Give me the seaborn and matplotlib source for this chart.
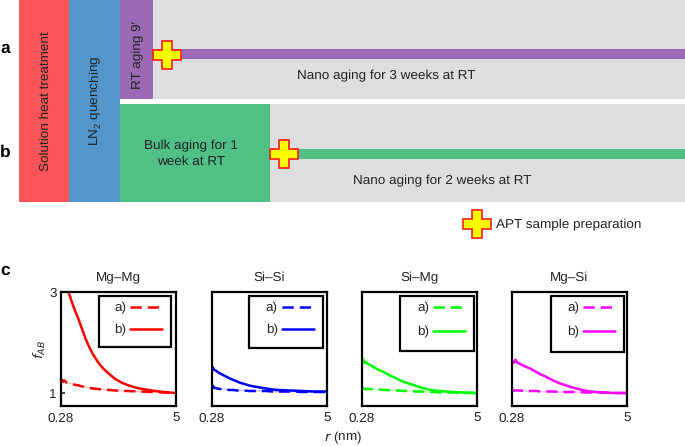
import numpy as np
import pandas as pd
import seaborn as sns
import matplotlib
matplotlib.use("Agg")
import matplotlib.pyplot as plt

# panel c data
r = [0.28, 0.32, 0.36, 0.42, 0.5, 0.6, 0.8, 1.0, 1.15, 1.3, 1.45, 1.6, 1.8, 2.0, 2.25, 2.5, 2.75, 3.0, 3.25, 3.5, 4.0, 4.5, 5.0]
titles = ["Mg\u2013Mg", "Si\u2013Si", "Si\u2013Mg", "Mg\u2013Si"]
colors = ["#ff0000", "#0000ff", "#00ff00", "#ff00ff"]
curves_a = [
    [1.20, 1.26, 1.22, 1.25, 1.21, 1.20, 1.17, 1.15, 1.13, 1.12, 1.10, 1.09, 1.08, 1.07, 1.06, 1.05, 1.045, 1.04, 1.035, 1.03, 1.02, 1.01, 1.00],
    [1.12, 1.14, 1.10, 1.10, 1.09, 1.08, 1.07, 1.06, 1.06, 1.05, 1.05, 1.05, 1.04, 1.04, 1.04, 1.04, 1.03, 1.03, 1.03, 1.03, 1.02, 1.02, 1.02],
    [1.09, 1.10, 1.08, 1.08, 1.08, 1.08, 1.07, 1.07, 1.06, 1.06, 1.05, 1.05, 1.05, 1.04, 1.04, 1.03, 1.03, 1.02, 1.02, 1.01, 1.01, 1.00, 1.00],
    [1.05, 1.06, 1.05, 1.05, 1.05, 1.05, 1.04, 1.04, 1.04, 1.04, 1.03, 1.03, 1.03, 1.03, 1.02, 1.02, 1.02, 1.02, 1.01, 1.01, 1.01, 1.00, 1.00],
]
curves_b = [
    [3.70, 3.58, 3.50, 3.32, 3.15, 2.98, 2.70, 2.46, 2.26, 2.06, 1.90, 1.76, 1.61, 1.49, 1.38, 1.28, 1.21, 1.16, 1.12, 1.09, 1.05, 1.02, 1.00],
    [1.49, 1.51, 1.46, 1.45, 1.42, 1.39, 1.34, 1.29, 1.26, 1.23, 1.20, 1.18, 1.15, 1.13, 1.11, 1.09, 1.07, 1.06, 1.055, 1.05, 1.04, 1.03, 1.03],
    [1.58, 1.68, 1.60, 1.62, 1.58, 1.56, 1.50, 1.45, 1.42, 1.38, 1.34, 1.31, 1.26, 1.22, 1.18, 1.14, 1.10, 1.07, 1.05, 1.04, 1.02, 1.01, 1.00],
    [1.58, 1.61, 1.60, 1.66, 1.60, 1.58, 1.53, 1.49, 1.45, 1.41, 1.37, 1.34, 1.29, 1.24, 1.19, 1.15, 1.11, 1.08, 1.05, 1.03, 1.01, 1.00, 1.00],
]
states = ["a)", "b)"]

# panel a/b schedule colours
stage_colors = ["#fa5053", "#4d94cb", "#9a6ab5", "#50c085"]

sns.set_theme(style="white")
plt.rcParams["font.family"] = ["Liberation Sans", "DejaVu Sans"]
plt.rcParams["mathtext.default"] = "regular"
plt.rcParams["text.hinting"] = "none"
txt = "#222222"

fig = plt.figure(figsize=(6.85, 4.46), dpi=100)
W, H = 685, 446
top = fig.add_axes([0, 0, 1, 1])
top.set_xlim(0, W)
top.set_ylim(H, 0)
top.axis("off")

# grey background rows
top.barh(49.5, 666, left=19, height=99, color="#dedede", lw=0)
top.barh(153, 666, left=19, height=98, color="#dedede", lw=0)
# strips
top.barh(54, 505, left=180, height=10, color=stage_colors[2], lw=0)
top.barh(153.5, 390, left=295, height=10, color=stage_colors[3], lw=0)
# stages
top.bar(44, 202, width=50, bottom=0, color=stage_colors[0], lw=0, alpha=0.97)
top.bar(94.5, 202, width=51, bottom=0, color=stage_colors[1], lw=0, alpha=0.97)
top.bar(136.5, 98.5, width=33, bottom=0, color=stage_colors[2], lw=0)
top.bar(195, 98, width=150, bottom=104, color=stage_colors[3], lw=0)

for cx, cy in [(167, 54.7), (284, 154), (477, 224)]:
    top.plot(cx, cy, marker="P", ms=19.5, mfc="#ffff00", mec="#ff1a1a", mew=1.2, ls="none", clip_on=False)

ts = 9.7
top.text(46, 101, "Solution heat treatment", rotation=90, ha="center", va="center", fontsize=ts, color=txt)
top.text(96, 101, "LN$_2$ quenching", rotation=90, ha="center", va="center", fontsize=ts, color=txt)
top.text(138, 55, "RT aging 9\u2032", rotation=90, ha="center", va="center", fontsize=ts, color=txt)
top.text(191, 154, "Bulk aging for 1\nweek at RT", ha="center", va="center", fontsize=ts, color=txt, linespacing=1.4)
top.text(386, 76, "Nano aging for 3 weeks at RT", ha="center", va="center", fontsize=ts, color=txt)
top.text(442, 181, "Nano aging for 2 weeks at RT", ha="center", va="center", fontsize=ts, color=txt)
top.text(496, 225, "APT sample preparation", ha="left", va="center", fontsize=ts, color=txt)
for lab, yy in zip(["a", "b", "c"], [48, 152, 270]):
    top.text(0, yy, lab, ha="left", va="center", fontsize=12.5, fontweight="bold", color="black")
top.text(343, 437.5, "$\\mathit{r}$ (nm)", ha="center", va="center", fontsize=ts, color=txt)

# panel c
lefts = [61, 212, 362, 512]
box_left = [99, 249, 400, 551]
box_right = [171, 323, 474, 624]
box_bottom = [347, 348, 351, 352]
line_end = [162, 313.5, 465, 615]
row_space = [0.75, 0.75, 0.9, 0.9]
py0, py1 = 292, 406
pw = 115
ph = py1 - py0
for i in range(4):
    ax = fig.add_axes([lefts[i] / W, 1 - py1 / H, pw / W, ph / H])
    ax.patch.set_alpha(0)
    df = pd.DataFrame({
        "r": r + r,
        "f": curves_a[i] + curves_b[i],
        "state": [states[0]] * len(r) + [states[1]] * len(r),
    })
    # faint line under the dashes
    sns.lineplot(data=df[df.state == "a)"], x="r", y="f", color=colors[i], lw=1, alpha=0.25,
                 errorbar=None, legend=False, ax=ax)
    sns.lineplot(data=df, x="r", y="f", hue="state", style="state",
                 palette={"a)": colors[i], "b)": colors[i]},
                 dashes={"a)": (4.5, 2.4), "b)": ""},
                 lw=1.8, errorbar=None, ax=ax)
    ax.set_xlim(0.28, 5)
    ax.set_ylim(0.743, 3)
    ax.set_xticks([0.28, 5])
    ax.set_xticklabels(["0.28", "5"], fontsize=ts, color=txt)
    ax.set_yticks([1, 3])
    if i == 0:
        ax.set_yticklabels(["1", "3"], fontsize=ts, color=txt)
        ax.set_ylabel("$\\mathit{f}_{\\mathit{AB}}$", fontsize=ts, color=txt, labelpad=2)
    else:
        ax.set_yticks([])
        ax.set_ylabel("")
    ax.set_xlabel("")
    ax.tick_params(axis="x", length=0, pad=5)
    ax.tick_params(axis="y", direction="in", length=3, width=1.2, pad=3, left=(i == 0))
    ax.set_title(titles[i], fontsize=ts, color=txt, pad=8)
    for s in ax.spines.values():
        s.set_visible(True)
        s.set_color("black")
        s.set_linewidth(1.6)
    # legend frame drawn by hand, the entries sit inside it off-centre
    ax.add_patch(plt.Rectangle(((box_left[i] - lefts[i]) / pw, (py1 - box_bottom[i]) / ph),
                               (box_right[i] - box_left[i]) / pw, (box_bottom[i] - 296) / ph,
                               transform=ax.transAxes, fc="white", ec="black", lw=1.6, zorder=4))
    leg = ax.legend(loc="upper right",
                    bbox_to_anchor=((line_end[i] - lefts[i]) / pw, (py1 - 302) / ph),
                    borderaxespad=0, borderpad=0, markerfirst=False, fontsize=ts, handlelength=2.35,
                    handletextpad=0.3, labelspacing=row_space[i], frameon=False)
    leg.set_zorder(6)
    for t in leg.get_texts():
        t.set_color(txt)

fig.savefig("out.png", dpi=100)
